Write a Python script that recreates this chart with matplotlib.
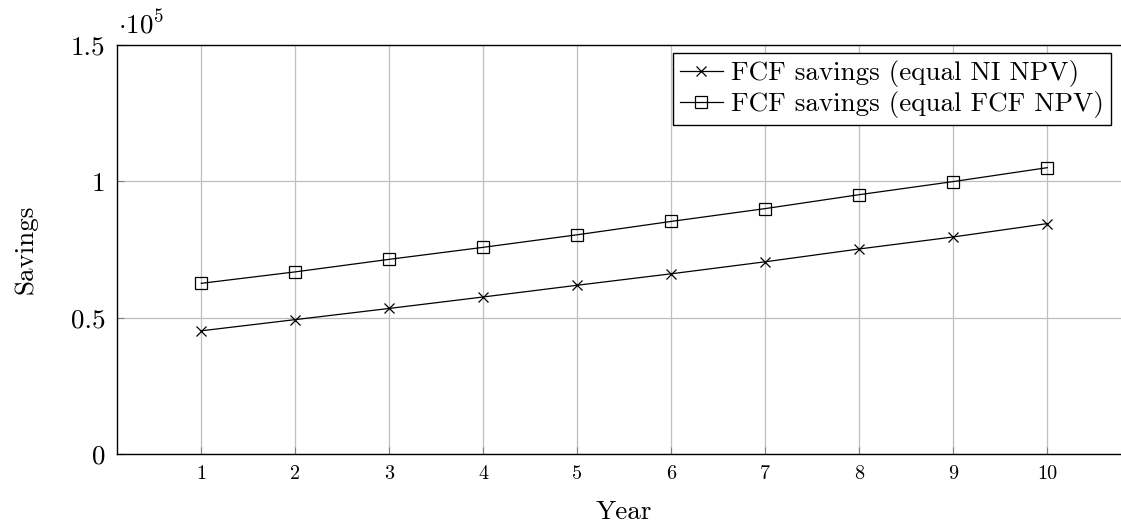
import matplotlib
matplotlib.use("Agg")
import matplotlib.pyplot as plt

plt.rcParams['font.family'] = 'serif'
plt.rcParams['font.serif'] = ['cmr10', 'DejaVu Serif']
plt.rcParams['mathtext.fontset'] = 'cm'
plt.rcParams['axes.formatter.use_mathtext'] = True

# Data (in units of 1e5)
years = [1, 2, 3, 4, 5, 6, 7, 8, 9, 10]
savings_ni = [0.452, 0.493, 0.534, 0.576, 0.619, 0.661, 0.705, 0.752, 0.796, 0.845]
savings_fcf = [0.626, 0.668, 0.714, 0.758, 0.804, 0.853, 0.900, 0.951, 0.999, 1.050]
y_ticks = [0, 0.5, 1, 1.5]
y_tick_labels = ['0', '0.5', '1', '1.5']

fig = plt.figure(figsize=(11.21, 5.24), dpi=100)
# axes extend past the right edge, like the cropped original
ax = fig.add_axes([116.7 / 1121, 69.9 / 524, 1015.2 / 1121, 409.2 / 524])

ax.plot(years, savings_ni, color='black', lw=0.9, marker='x', ms=7, mew=0.9,
        label='FCF savings (equal NI NPV)')
ax.plot(years, savings_fcf, color='black', lw=0.9, marker='s', ms=8, mew=0.9,
        mfc='none', label='FCF savings (equal FCF NPV)')

ax.set_xlim(0.1, 10.9)
ax.set_ylim(0, 1.5)
ax.set_xticks(years)
ax.set_xticklabels([str(y) for y in years], fontsize=14.5)
ax.set_yticks(y_ticks)
ax.set_yticklabels(y_tick_labels, fontsize=19.5)
ax.tick_params(direction='in', length=5, color='#808080', width=0.8, pad=8)
ax.grid(True, color='#bfbfbf', lw=0.9)
ax.set_axisbelow(True)
for s in ax.spines.values():
    s.set_linewidth(1.0)

ax.set_xlabel('Year', fontsize=19.5, labelpad=12)
ax.set_ylabel('Savings', fontsize=19.5, labelpad=24)

fig.text(118 / 1121, 1 - 38 / 524, r'$\cdot 10^5$', fontsize=19.5, ha='left', va='bottom')

leg = ax.legend(loc='upper right', bbox_to_anchor=(1110.7 / 1121, 1 - 53.3 / 524),
                bbox_transform=fig.transFigure, borderaxespad=0, fontsize=19.5,
                fancybox=False, framealpha=1, edgecolor='black',
                handlelength=1.6, handletextpad=0.3, borderpad=0.25, labelspacing=0.15)
leg.get_frame().set_linewidth(1.0)

fig.savefig('out.png', dpi=100)
